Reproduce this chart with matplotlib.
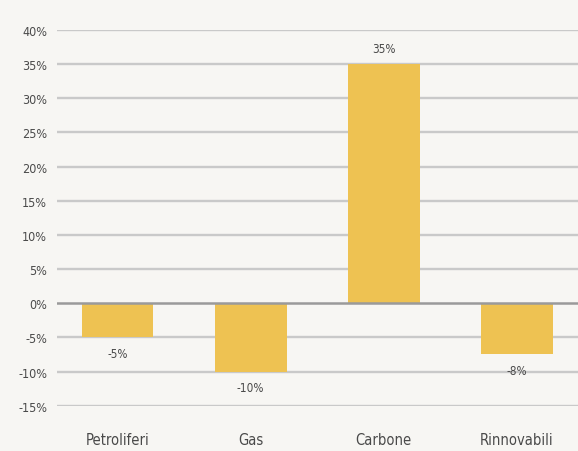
import matplotlib.pyplot as plt
import numpy as np

# Data
categories = ["Petroliferi", "Gas", "Carbone", "Rinnovabili"]
values = [-5, -10, 35, -7.5]
value_labels = ["-5%", "-10%", "35%", "-8%"]
y_ticks = [40, 35, 30, 25, 20, 15, 10, 5, 0, -5, -10, -15]

bar_color = "#eec252"
bg_color = "#f7f6f3"
text_color = "#4a4a4a"

plt.rcParams['font.family'] = ['DejaVu Sans']
plt.rcParams['font.stretch'] = 'condensed'

fig = plt.figure(figsize=(5.78, 4.52), dpi=100, facecolor=bg_color)
ax = fig.add_axes([57 / 578, 1 - 406.7 / 452, 1 - 57 / 578, (406.7 - 31) / 452])
ax.set_facecolor(bg_color)

x = np.arange(len(categories))
ax.bar(x, values, width=0.54, color=bar_color, zorder=2)

# Gridlines
for t in y_ticks:
    ax.axhline(t, color="#9a9a9a" if t == 0 else "#c9c9c9",
               lw=1.8 if t == 0 else 1.7, zorder=1 if t != 0 else 3)

# Value labels
for xi, v, lab in zip(x, values, value_labels):
    if v >= 0:
        ax.text(xi, v + 1.4, lab, ha="center", va="bottom", fontsize=8.5, color=text_color)
    else:
        ax.text(xi, v - 1.4, lab, ha="center", va="top", fontsize=8.5, color=text_color)

ax.set_xlim(-0.455, 3.46)
ax.set_ylim(-15, 40)
ax.set_yticks(y_ticks)
ax.set_yticklabels([f"{t}%" for t in y_ticks], fontsize=9, color=text_color)
ax.set_xticks(x)
ax.set_xticklabels(categories, fontsize=10.5, color=text_color)
ax.tick_params(axis="y", length=0, pad=7)
ax.tick_params(axis="x", length=0, pad=19)
for s in ax.spines.values():
    s.set_visible(False)

fig.savefig("out.png", dpi=100, facecolor=bg_color)
